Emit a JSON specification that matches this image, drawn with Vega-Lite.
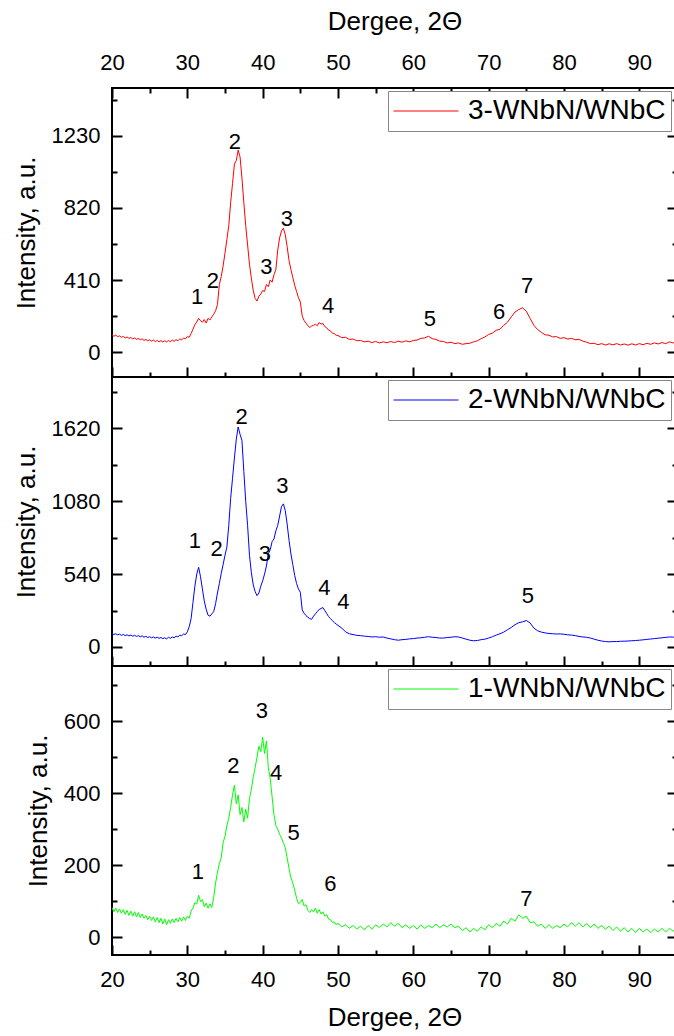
{
"$schema": "https://vega.github.io/schema/vega-lite/v6.json",
"padding": {"left": 12, "top": 7, "right": 0, "bottom": 0},
"spacing": 0,
"bounds": "flush",
"config": {
  "font": "Liberation Sans",
  "view": {"stroke": "black", "strokeWidth": 2},
  "axis": {"domain": false, "grid": false, "tickColor": "black", "tickWidth": 2, "labelColor": "black", "titleColor": "black", "labelFont": "Liberation Sans", "titleFont": "Liberation Sans", "labelFontSize": 22, "titleFontSize": 26, "titleFontWeight": "normal", "labelFlush": false, "labelOverlap": false},
  "axisX": {"labelPadding": 24, "titlePadding": 12},
  "axisY": {"labelPadding": 22, "titlePadding": 12},
  "legend": {"orient": "none", "legendX": 276, "legendY": 3, "title": null, "symbolType": "stroke", "symbolSize": 4225, "symbolStrokeWidth": 1, "clipHeight": 30, "labelFontSize": 28, "labelFont": "Liberation Sans", "labelColor": "black", "labelOffset": 9, "padding": 5, "strokeColor": "#888888", "fillColor": "white", "cornerRadius": 0, "labelLimit": 0},
  "text": {"font": "Liberation Sans", "fontSize": 22, "color": "black", "baseline": "middle", "align": "center"}
},
"resolve": {"scale": {"x": "independent", "y": "independent", "color": "independent"}, "legend": {"color": "independent"}},
"datasets": {
"s3": [{"x":20,"y":98},{"x":20.25,"y":90},{"x":20.5,"y":96},{"x":20.75,"y":88},{"x":21,"y":92},{"x":21.25,"y":84},{"x":21.5,"y":89},{"x":21.75,"y":80},{"x":22,"y":86},{"x":22.25,"y":78},{"x":22.5,"y":83},{"x":22.75,"y":75},{"x":23,"y":80},{"x":23.25,"y":72},{"x":23.5,"y":78},{"x":23.75,"y":70},{"x":24,"y":75},{"x":24.25,"y":66},{"x":24.5,"y":72},{"x":24.75,"y":64},{"x":25,"y":70},{"x":25.25,"y":62},{"x":25.5,"y":68},{"x":25.75,"y":60},{"x":26,"y":66},{"x":26.25,"y":58},{"x":26.5,"y":65},{"x":26.75,"y":57},{"x":27,"y":64},{"x":27.25,"y":58},{"x":27.5,"y":66},{"x":27.75,"y":59},{"x":28,"y":68},{"x":28.25,"y":61},{"x":28.5,"y":71},{"x":28.75,"y":64},{"x":29,"y":75},{"x":29.25,"y":69},{"x":29.5,"y":80},{"x":29.75,"y":75},{"x":30,"y":88},{"x":30.25,"y":84},{"x":30.5,"y":105},{"x":30.75,"y":130},{"x":31,"y":155},{"x":31.25,"y":172},{"x":31.5,"y":192},{"x":31.75,"y":178},{"x":32,"y":170},{"x":32.25,"y":185},{"x":32.5,"y":165},{"x":32.75,"y":192},{"x":33,"y":182},{"x":33.25,"y":200},{"x":33.5,"y":215},{"x":33.75,"y":235},{"x":34,"y":270},{"x":34.25,"y":385},{"x":34.5,"y":430},{"x":34.75,"y":490},{"x":35,"y":565},{"x":35.25,"y":640},{"x":35.5,"y":720},{"x":35.75,"y":850},{"x":36,"y":960},{"x":36.25,"y":1070},{"x":36.5,"y":1090},{"x":36.75,"y":1150},{"x":37,"y":1110},{"x":37.25,"y":990},{"x":37.5,"y":850},{"x":37.75,"y":720},{"x":38,"y":610},{"x":38.25,"y":500},{"x":38.5,"y":420},{"x":38.75,"y":350},{"x":39,"y":305},{"x":39.25,"y":290},{"x":39.5,"y":318},{"x":39.75,"y":330},{"x":40,"y":350},{"x":40.25,"y":345},{"x":40.5,"y":385},{"x":40.75,"y":372},{"x":41,"y":410},{"x":41.25,"y":398},{"x":41.5,"y":440},{"x":41.75,"y":470},{"x":42,"y":580},{"x":42.25,"y":650},{"x":42.5,"y":690},{"x":42.75,"y":705},{"x":43,"y":668},{"x":43.25,"y":600},{"x":43.5,"y":520},{"x":43.75,"y":470},{"x":44,"y":425},{"x":44.25,"y":380},{"x":44.5,"y":345},{"x":44.75,"y":310},{"x":45,"y":285},{"x":45.25,"y":205},{"x":45.5,"y":180},{"x":45.75,"y":165},{"x":46,"y":150},{"x":46.25,"y":140},{"x":46.5,"y":148},{"x":46.75,"y":152},{"x":47,"y":158},{"x":47.25,"y":150},{"x":47.5,"y":168},{"x":47.75,"y":160},{"x":48,"y":162},{"x":48.25,"y":145},{"x":48.5,"y":138},{"x":48.75,"y":125},{"x":49,"y":120},{"x":49.25,"y":108},{"x":49.5,"y":105},{"x":49.75,"y":96},{"x":50,"y":94},{"x":50.5,"y":82},{"x":51,"y":84},{"x":51.5,"y":72},{"x":52,"y":74},{"x":52.5,"y":64},{"x":53,"y":66},{"x":53.5,"y":58},{"x":54,"y":62},{"x":54.5,"y":54},{"x":55,"y":60},{"x":55.5,"y":52},{"x":56,"y":58},{"x":56.5,"y":53},{"x":57,"y":60},{"x":57.5,"y":54},{"x":58,"y":62},{"x":58.5,"y":56},{"x":59,"y":64},{"x":59.5,"y":58},{"x":60,"y":66},{"x":60.5,"y":68},{"x":61,"y":78},{"x":61.5,"y":80},{"x":62,"y":90},{"x":62.5,"y":76},{"x":63,"y":72},{"x":63.5,"y":62},{"x":64,"y":60},{"x":64.5,"y":52},{"x":65,"y":56},{"x":65.5,"y":48},{"x":66,"y":52},{"x":66.5,"y":44},{"x":67,"y":48},{"x":67.5,"y":50},{"x":68,"y":58},{"x":68.5,"y":64},{"x":69,"y":76},{"x":69.5,"y":86},{"x":70,"y":100},{"x":70.5,"y":108},{"x":71,"y":124},{"x":71.5,"y":130},{"x":72,"y":152},{"x":72.5,"y":170},{"x":73,"y":200},{"x":73.5,"y":228},{"x":74,"y":242},{"x":74.5,"y":252},{"x":75,"y":232},{"x":75.5,"y":192},{"x":76,"y":152},{"x":76.5,"y":128},{"x":77,"y":112},{"x":77.5,"y":98},{"x":78,"y":96},{"x":78.5,"y":86},{"x":79,"y":88},{"x":79.5,"y":78},{"x":80,"y":82},{"x":80.5,"y":74},{"x":81,"y":78},{"x":81.5,"y":70},{"x":82,"y":72},{"x":82.5,"y":62},{"x":83,"y":56},{"x":83.5,"y":48},{"x":84,"y":50},{"x":84.5,"y":42},{"x":85,"y":48},{"x":85.5,"y":40},{"x":86,"y":47},{"x":86.5,"y":41},{"x":87,"y":48},{"x":87.5,"y":40},{"x":88,"y":46},{"x":88.5,"y":39},{"x":89,"y":47},{"x":89.5,"y":40},{"x":90,"y":48},{"x":90.5,"y":42},{"x":91,"y":50},{"x":91.5,"y":44},{"x":92,"y":52},{"x":92.5,"y":46},{"x":93,"y":54},{"x":93.5,"y":48},{"x":94,"y":58},{"x":94.5,"y":52},{"x":95,"y":56}],
"s2": [{"x":20,"y":100},{"x":20.25,"y":92},{"x":20.5,"y":98},{"x":20.75,"y":90},{"x":21,"y":95},{"x":21.25,"y":86},{"x":21.5,"y":93},{"x":21.75,"y":84},{"x":22,"y":90},{"x":22.25,"y":82},{"x":22.5,"y":88},{"x":22.75,"y":80},{"x":23,"y":86},{"x":23.25,"y":78},{"x":23.5,"y":84},{"x":23.75,"y":76},{"x":24,"y":82},{"x":24.25,"y":72},{"x":24.5,"y":79},{"x":24.75,"y":70},{"x":25,"y":76},{"x":25.25,"y":68},{"x":25.5,"y":74},{"x":25.75,"y":66},{"x":26,"y":72},{"x":26.25,"y":64},{"x":26.5,"y":70},{"x":26.75,"y":62},{"x":27,"y":68},{"x":27.25,"y":60},{"x":27.5,"y":72},{"x":27.75,"y":64},{"x":28,"y":74},{"x":28.25,"y":68},{"x":28.5,"y":80},{"x":28.75,"y":74},{"x":29,"y":88},{"x":29.25,"y":84},{"x":29.5,"y":96},{"x":29.75,"y":92},{"x":30,"y":112},{"x":30.25,"y":150},{"x":30.5,"y":210},{"x":30.75,"y":330},{"x":31,"y":450},{"x":31.25,"y":540},{"x":31.5,"y":590},{"x":31.75,"y":520},{"x":32,"y":430},{"x":32.25,"y":340},{"x":32.5,"y":280},{"x":32.75,"y":235},{"x":33,"y":228},{"x":33.25,"y":245},{"x":33.5,"y":262},{"x":33.75,"y":320},{"x":34,"y":400},{"x":34.25,"y":470},{"x":34.5,"y":545},{"x":34.75,"y":610},{"x":35,"y":680},{"x":35.25,"y":740},{"x":35.5,"y":900},{"x":35.75,"y":1100},{"x":36,"y":1250},{"x":36.25,"y":1400},{"x":36.5,"y":1540},{"x":36.75,"y":1630},{"x":37,"y":1575},{"x":37.25,"y":1530},{"x":37.5,"y":1300},{"x":37.75,"y":1080},{"x":38,"y":900},{"x":38.25,"y":680},{"x":38.5,"y":550},{"x":38.75,"y":460},{"x":39,"y":410},{"x":39.25,"y":380},{"x":39.5,"y":400},{"x":39.75,"y":450},{"x":40,"y":490},{"x":40.25,"y":540},{"x":40.5,"y":600},{"x":40.75,"y":690},{"x":41,"y":720},{"x":41.25,"y":780},{"x":41.5,"y":800},{"x":41.75,"y":860},{"x":42,"y":900},{"x":42.25,"y":970},{"x":42.5,"y":1040},{"x":42.75,"y":1060},{"x":43,"y":1010},{"x":43.25,"y":910},{"x":43.5,"y":790},{"x":43.75,"y":690},{"x":44,"y":610},{"x":44.25,"y":530},{"x":44.5,"y":470},{"x":44.75,"y":430},{"x":45,"y":405},{"x":45.25,"y":275},{"x":45.5,"y":250},{"x":45.75,"y":232},{"x":46,"y":220},{"x":46.25,"y":210},{"x":46.5,"y":205},{"x":46.75,"y":228},{"x":47,"y":245},{"x":47.25,"y":262},{"x":47.5,"y":278},{"x":47.75,"y":285},{"x":48,"y":292},{"x":48.25,"y":270},{"x":48.5,"y":248},{"x":48.75,"y":225},{"x":49,"y":210},{"x":49.25,"y":195},{"x":49.5,"y":182},{"x":49.75,"y":170},{"x":50,"y":160},{"x":50.5,"y":140},{"x":51,"y":112},{"x":51.5,"y":98},{"x":52,"y":92},{"x":52.5,"y":86},{"x":53,"y":84},{"x":53.5,"y":80},{"x":54,"y":78},{"x":54.5,"y":74},{"x":55,"y":76},{"x":55.5,"y":72},{"x":56,"y":74},{"x":56.5,"y":66},{"x":57,"y":60},{"x":57.5,"y":54},{"x":58,"y":50},{"x":58.5,"y":54},{"x":59,"y":56},{"x":59.5,"y":60},{"x":60,"y":62},{"x":60.5,"y":66},{"x":61,"y":68},{"x":61.5,"y":72},{"x":62,"y":76},{"x":62.5,"y":72},{"x":63,"y":70},{"x":63.5,"y":66},{"x":64,"y":66},{"x":64.5,"y":70},{"x":65,"y":72},{"x":65.5,"y":76},{"x":66,"y":74},{"x":66.5,"y":66},{"x":67,"y":58},{"x":67.5,"y":50},{"x":68,"y":46},{"x":68.5,"y":48},{"x":69,"y":54},{"x":69.5,"y":58},{"x":70,"y":66},{"x":70.5,"y":76},{"x":71,"y":88},{"x":71.5,"y":98},{"x":72,"y":110},{"x":72.5,"y":128},{"x":73,"y":145},{"x":73.5,"y":165},{"x":74,"y":180},{"x":74.5,"y":186},{"x":75,"y":196},{"x":75.5,"y":178},{"x":76,"y":140},{"x":76.5,"y":120},{"x":77,"y":110},{"x":77.5,"y":104},{"x":78,"y":100},{"x":78.5,"y":98},{"x":79,"y":96},{"x":79.5,"y":97},{"x":80,"y":94},{"x":80.5,"y":90},{"x":81,"y":88},{"x":81.5,"y":84},{"x":82,"y":78},{"x":82.5,"y":74},{"x":83,"y":72},{"x":83.5,"y":66},{"x":84,"y":58},{"x":84.5,"y":50},{"x":85,"y":44},{"x":85.5,"y":40},{"x":86,"y":38},{"x":86.5,"y":40},{"x":87,"y":40},{"x":87.5,"y":42},{"x":88,"y":43},{"x":88.5,"y":44},{"x":89,"y":46},{"x":89.5,"y":48},{"x":90,"y":50},{"x":90.5,"y":53},{"x":91,"y":56},{"x":91.5,"y":59},{"x":92,"y":62},{"x":92.5,"y":65},{"x":93,"y":68},{"x":93.5,"y":71},{"x":94,"y":74},{"x":94.5,"y":73},{"x":95,"y":72}],
"s1": [{"x":20,"y":82},{"x":20.25,"y":70},{"x":20.5,"y":80},{"x":20.75,"y":68},{"x":21,"y":78},{"x":21.25,"y":66},{"x":21.5,"y":76},{"x":21.75,"y":63},{"x":22,"y":74},{"x":22.25,"y":60},{"x":22.5,"y":72},{"x":22.75,"y":58},{"x":23,"y":70},{"x":23.25,"y":56},{"x":23.5,"y":68},{"x":23.75,"y":54},{"x":24,"y":64},{"x":24.25,"y":52},{"x":24.5,"y":60},{"x":24.75,"y":48},{"x":25,"y":58},{"x":25.25,"y":46},{"x":25.5,"y":56},{"x":25.75,"y":42},{"x":26,"y":54},{"x":26.25,"y":40},{"x":26.5,"y":52},{"x":26.75,"y":36},{"x":27,"y":50},{"x":27.25,"y":34},{"x":27.5,"y":48},{"x":27.75,"y":38},{"x":28,"y":50},{"x":28.25,"y":40},{"x":28.5,"y":52},{"x":28.75,"y":42},{"x":29,"y":54},{"x":29.25,"y":44},{"x":29.5,"y":56},{"x":29.75,"y":46},{"x":30,"y":58},{"x":30.25,"y":52},{"x":30.5,"y":72},{"x":30.75,"y":80},{"x":31,"y":96},{"x":31.25,"y":92},{"x":31.5,"y":116},{"x":31.75,"y":98},{"x":32,"y":104},{"x":32.25,"y":84},{"x":32.5,"y":94},{"x":32.75,"y":80},{"x":33,"y":92},{"x":33.25,"y":82},{"x":33.5,"y":110},{"x":33.75,"y":150},{"x":34,"y":180},{"x":34.25,"y":204},{"x":34.5,"y":220},{"x":34.75,"y":262},{"x":35,"y":280},{"x":35.25,"y":310},{"x":35.5,"y":330},{"x":35.75,"y":360},{"x":36,"y":395},{"x":36.25,"y":422},{"x":36.5,"y":370},{"x":36.75,"y":395},{"x":37,"y":340},{"x":37.25,"y":360},{"x":37.5,"y":320},{"x":37.75,"y":355},{"x":38,"y":330},{"x":38.25,"y":385},{"x":38.5,"y":410},{"x":38.75,"y":445},{"x":39,"y":470},{"x":39.25,"y":500},{"x":39.5,"y":530},{"x":39.75,"y":515},{"x":40,"y":555},{"x":40.25,"y":510},{"x":40.5,"y":545},{"x":40.75,"y":470},{"x":41,"y":440},{"x":41.25,"y":390},{"x":41.5,"y":340},{"x":41.75,"y":310},{"x":42,"y":300},{"x":42.25,"y":285},{"x":42.5,"y":275},{"x":42.75,"y":262},{"x":43,"y":248},{"x":43.25,"y":220},{"x":43.5,"y":190},{"x":43.75,"y":165},{"x":44,"y":150},{"x":44.25,"y":130},{"x":44.5,"y":108},{"x":44.75,"y":92},{"x":45,"y":96},{"x":45.25,"y":104},{"x":45.5,"y":86},{"x":45.75,"y":90},{"x":46,"y":74},{"x":46.25,"y":68},{"x":46.5,"y":76},{"x":46.75,"y":70},{"x":47,"y":80},{"x":47.25,"y":66},{"x":47.5,"y":76},{"x":47.75,"y":64},{"x":48,"y":70},{"x":48.25,"y":58},{"x":48.5,"y":62},{"x":48.75,"y":50},{"x":49,"y":48},{"x":49.25,"y":40},{"x":49.5,"y":42},{"x":49.75,"y":34},{"x":50,"y":38},{"x":50.5,"y":28},{"x":51,"y":34},{"x":51.5,"y":24},{"x":52,"y":32},{"x":52.5,"y":22},{"x":53,"y":30},{"x":53.5,"y":20},{"x":54,"y":32},{"x":54.5,"y":22},{"x":55,"y":34},{"x":55.5,"y":26},{"x":56,"y":36},{"x":56.5,"y":28},{"x":57,"y":40},{"x":57.5,"y":30},{"x":58,"y":38},{"x":58.5,"y":26},{"x":59,"y":34},{"x":59.5,"y":24},{"x":60,"y":32},{"x":60.5,"y":22},{"x":61,"y":34},{"x":61.5,"y":24},{"x":62,"y":32},{"x":62.5,"y":26},{"x":63,"y":36},{"x":63.5,"y":26},{"x":64,"y":34},{"x":64.5,"y":28},{"x":65,"y":36},{"x":65.5,"y":26},{"x":66,"y":30},{"x":66.5,"y":18},{"x":67,"y":26},{"x":67.5,"y":14},{"x":68,"y":24},{"x":68.5,"y":16},{"x":69,"y":28},{"x":69.5,"y":20},{"x":70,"y":34},{"x":70.5,"y":26},{"x":71,"y":38},{"x":71.5,"y":30},{"x":72,"y":44},{"x":72.5,"y":36},{"x":73,"y":52},{"x":73.5,"y":44},{"x":74,"y":62},{"x":74.5,"y":52},{"x":75,"y":58},{"x":75.5,"y":40},{"x":76,"y":42},{"x":76.5,"y":30},{"x":77,"y":36},{"x":77.5,"y":24},{"x":78,"y":34},{"x":78.5,"y":24},{"x":79,"y":32},{"x":79.5,"y":26},{"x":80,"y":36},{"x":80.5,"y":28},{"x":81,"y":40},{"x":81.5,"y":30},{"x":82,"y":40},{"x":82.5,"y":28},{"x":83,"y":38},{"x":83.5,"y":26},{"x":84,"y":36},{"x":84.5,"y":24},{"x":85,"y":32},{"x":85.5,"y":22},{"x":86,"y":30},{"x":86.5,"y":18},{"x":87,"y":28},{"x":87.5,"y":16},{"x":88,"y":26},{"x":88.5,"y":14},{"x":89,"y":24},{"x":89.5,"y":12},{"x":90,"y":24},{"x":90.5,"y":14},{"x":91,"y":22},{"x":91.5,"y":12},{"x":92,"y":22},{"x":92.5,"y":14},{"x":93,"y":24},{"x":93.5,"y":14},{"x":94,"y":24},{"x":94.5,"y":16},{"x":95,"y":22}],
"t3": [{"x":31.3,"y":313,"t":"1"},{"x":33.4,"y":404,"t":"2"},{"x":36.3,"y":1196,"t":"2"},{"x":40.5,"y":484,"t":"3"},{"x":43.2,"y":757,"t":"3"},{"x":48.7,"y":262,"t":"4"},{"x":62.2,"y":188,"t":"5"},{"x":71.4,"y":228,"t":"6"},{"x":75.1,"y":376,"t":"7"}],
"t2": [{"x":31,"y":788,"t":"1"},{"x":33.9,"y":728,"t":"2"},{"x":37.2,"y":1700,"t":"2"},{"x":40.3,"y":691,"t":"3"},{"x":42.6,"y":1189,"t":"3"},{"x":48.2,"y":438,"t":"4"},{"x":50.7,"y":334,"t":"4"},{"x":75.2,"y":379,"t":"5"}],
"t1": [{"x":31.4,"y":181,"t":"1"},{"x":36.1,"y":475,"t":"2"},{"x":39.9,"y":628,"t":"3"},{"x":41.8,"y":456,"t":"4"},{"x":44.1,"y":289,"t":"5"},{"x":49,"y":147,"t":"6"},{"x":75,"y":106,"t":"7"}]
},
"vconcat": [
{
  "width": 565, "height": 289,
  "resolve": {"axis": {"x": "independent", "y": "independent"}},
  "layer": [
    {
      "data": {"name": "s3"},
      "mark": {"type": "line", "strokeWidth": 1},
      "encoding": {
        "x": {"field": "x", "type": "quantitative", "scale": {"domain": [20, 95], "nice": false, "zero": false},
              "axis": {"orient": "bottom", "values": [20,25,30,35,40,45,50,55,60,65,70,75,80,85,90], "labels": false, "title": null,
                       "tickSize": {"condition": {"test": "datum.value % 10 === 0", "value": -10}, "value": -5}}},
        "y": {"field": "y", "type": "quantitative", "scale": {"domain": [-142, 1503], "nice": false, "zero": false},
              "axis": {"orient": "left", "values": [0,205,410,615,820,1025,1230,1435], "format": "d", "title": "Intensity, a.u.",
                       "labelExpr": "datum.value % 410 === 0 ? datum.label : ''",
                       "tickSize": {"condition": {"test": "datum.value % 410 === 0", "value": -10}, "value": -5}}},
        "color": {"datum": "3-WNbN/WNbC", "type": "nominal", "scale": {"domain": ["3-WNbN/WNbC"], "range": ["#ff0000"]}}
      }
    },
    {
      "data": {"name": "t3"},
      "mark": {"type": "text"},
      "encoding": {
        "x": {"field": "x", "type": "quantitative", "scale": {"domain": [20, 95], "nice": false, "zero": false},
              "axis": {"orient": "top", "values": [20,25,30,35,40,45,50,55,60,65,70,75,80,85,90], "title": "Dergee, 2Θ",
                       "labelExpr": "datum.value % 10 === 0 ? datum.label : ''",
                       "tickSize": {"condition": {"test": "datum.value % 10 === 0", "value": -10}, "value": -5}}},
        "y": {"field": "y", "type": "quantitative", "scale": {"domain": [-142, 1503], "nice": false, "zero": false},
              "axis": {"orient": "right", "values": [0,205,410,615,820,1025,1230,1435], "labels": false, "title": null,
                       "tickSize": {"condition": {"test": "datum.value % 410 === 0", "value": -10}, "value": -5}}},
        "text": {"field": "t", "type": "nominal"}
      }
    }
  ]
},
{
  "width": 565, "height": 289,
  "resolve": {"axis": {"x": "independent", "y": "independent"}},
  "layer": [
    {
      "data": {"name": "s2"},
      "mark": {"type": "line", "strokeWidth": 1},
      "encoding": {
        "x": {"field": "x", "type": "quantitative", "scale": {"domain": [20, 95], "nice": false, "zero": false},
              "axis": {"orient": "bottom", "values": [20,25,30,35,40,45,50,55,60,65,70,75,80,85,90], "labels": false, "title": null,
                       "tickSize": {"condition": {"test": "datum.value % 10 === 0", "value": -10}, "value": -5}}},
        "y": {"field": "y", "type": "quantitative", "scale": {"domain": [-141, 2000], "nice": false, "zero": false},
              "axis": {"orient": "left", "values": [0,270,540,810,1080,1350,1620,1890], "format": "d", "title": "Intensity, a.u.",
                       "labelExpr": "datum.value % 540 === 0 ? datum.label : ''",
                       "tickSize": {"condition": {"test": "datum.value % 540 === 0", "value": -10}, "value": -5}}},
        "color": {"datum": "2-WNbN/WNbC", "type": "nominal", "scale": {"domain": ["2-WNbN/WNbC"], "range": ["#0000ff"]}}
      }
    },
    {
      "data": {"name": "t2"},
      "mark": {"type": "text"},
      "encoding": {
        "x": {"field": "x", "type": "quantitative", "scale": {"domain": [20, 95], "nice": false, "zero": false}, "axis": null},
        "y": {"field": "y", "type": "quantitative", "scale": {"domain": [-141, 2000], "nice": false, "zero": false},
              "axis": {"orient": "right", "values": [0,270,540,810,1080,1350,1620,1890], "labels": false, "title": null,
                       "tickSize": {"condition": {"test": "datum.value % 540 === 0", "value": -10}, "value": -5}}},
        "text": {"field": "t", "type": "nominal"}
      }
    }
  ]
},
{
  "width": 565, "height": 289,
  "resolve": {"axis": {"x": "independent", "y": "independent"}},
  "layer": [
    {
      "data": {"name": "s1"},
      "mark": {"type": "line", "strokeWidth": 1},
      "encoding": {
        "x": {"field": "x", "type": "quantitative", "scale": {"domain": [20, 95], "nice": false, "zero": false},
              "axis": {"orient": "bottom", "values": [20,25,30,35,40,45,50,55,60,65,70,75,80,85,90], "title": "Dergee, 2Θ", "titlePadding": 9,
                       "labelExpr": "datum.value % 10 === 0 ? datum.label : ''",
                       "tickSize": {"condition": {"test": "datum.value % 10 === 0", "value": -10}, "value": -5}}},
        "y": {"field": "y", "type": "quantitative", "scale": {"domain": [-50, 753], "nice": false, "zero": false},
              "axis": {"orient": "left", "values": [0,100,200,300,400,500,600,700], "format": "d", "title": "Intensity, a.u.",
                       "labelExpr": "datum.value % 200 === 0 ? datum.label : ''",
                       "tickSize": {"condition": {"test": "datum.value % 200 === 0", "value": -10}, "value": -5}}},
        "color": {"datum": "1-WNbN/WNbC", "type": "nominal", "scale": {"domain": ["1-WNbN/WNbC"], "range": ["#00ff00"]}}
      }
    },
    {
      "data": {"name": "t1"},
      "mark": {"type": "text"},
      "encoding": {
        "x": {"field": "x", "type": "quantitative", "scale": {"domain": [20, 95], "nice": false, "zero": false}, "axis": null},
        "y": {"field": "y", "type": "quantitative", "scale": {"domain": [-50, 753], "nice": false, "zero": false},
              "axis": {"orient": "right", "values": [0,100,200,300,400,500,600,700], "labels": false, "title": null,
                       "tickSize": {"condition": {"test": "datum.value % 200 === 0", "value": -10}, "value": -5}}},
        "text": {"field": "t", "type": "nominal"}
      }
    }
  ]
}
]
}
